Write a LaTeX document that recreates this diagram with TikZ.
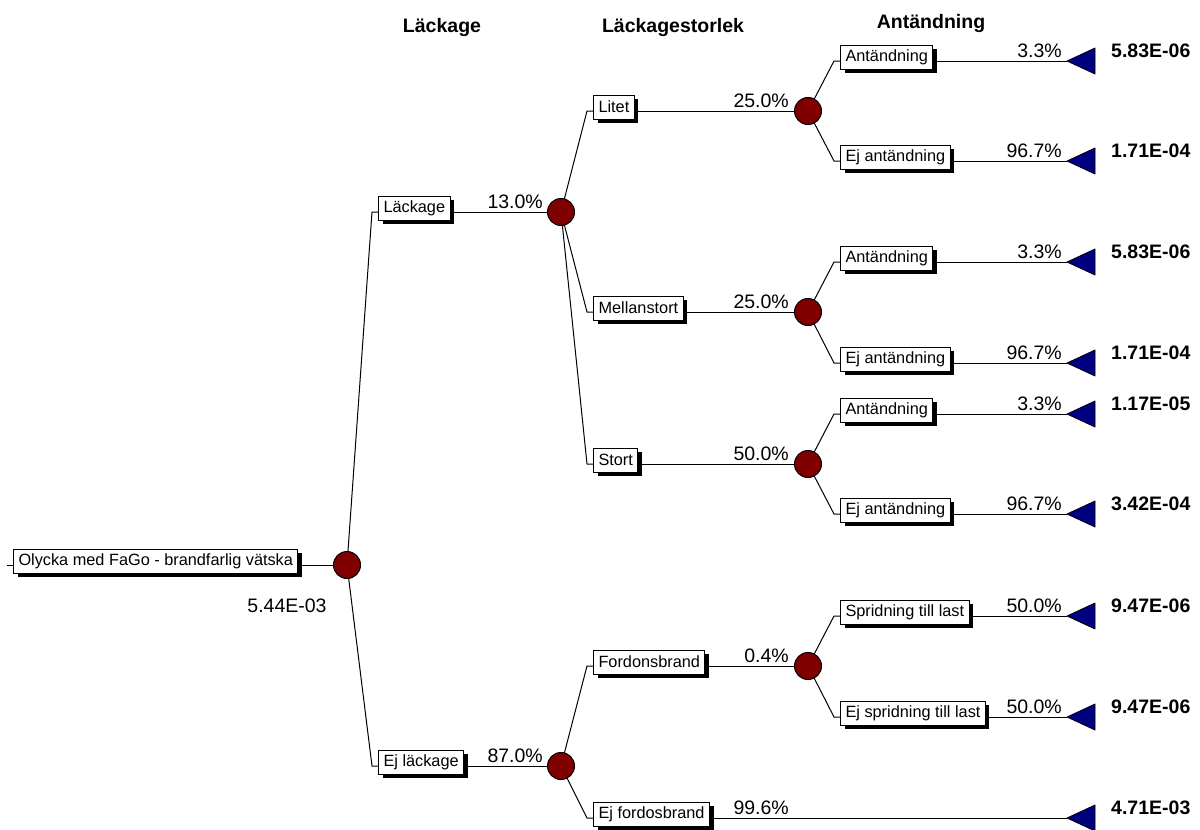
\documentclass[tikz,border=0pt]{standalone}
\usepackage{fontspec}
\setmainfont{Liberation Sans}
\usetikzlibrary{shadows,backgrounds}
\definecolor{chancered}{RGB}{128,0,0}
\definecolor{termblue}{RGB}{0,0,128}

% #1 name, #2 parent node, #3 box left x, #4 branch y, #5 label,
% #6 node the branch runs into, #7 probability x, #8 probability
\newcommand\tbranch[8]{%
  \coordinate (#1-in) at ({#3-6},#4);
  \node[branchbox] (#1) at (#3,{#4-4}) {#5};
  \node[prob] (#1-p) at (#7,{#4-4}) {#8};
  \begin{pgfonlayer}{background}
    \draw[conn] (#2.center) -- (#1-in) -- (#1-in -| #1.west);
    \draw[conn] (#1.east |- #1-in) -- (#6);
  \end{pgfonlayer}}

% terminal triangle with its payoff value
\newcommand\tleaf[3]{%
  \coordinate (#1) at (1067,#2);
  \draw[terminal] (#1) -- ++(28,-13) -- ++(0,26) -- cycle;
  \node[payoff] (#1-v) at (1111,{#2-4}) {#3};}

\begin{document}
\begin{tikzpicture}[x=1pt,y=-1pt,
  conn/.style={line width=1pt},
  branchbox/.style={draw, fill=white, line width=1pt, anchor=west,
    minimum height=24pt, inner xsep=5pt, inner ysep=0pt,
    font=\fontsize{16.3}{18}\selectfont,
    general shadow={fill=black, shadow xshift=4pt, shadow yshift=-4pt}},
  chance/.style={circle, draw, fill=chancered, line width=1pt,
    minimum size=27pt, inner sep=0pt},
  prob/.style={anchor=base east, inner sep=0pt,
    font=\fontsize{19.5}{22}\selectfont},
  payoff/.style={anchor=base west, inner sep=0pt,
    font=\bfseries\fontsize{19.5}{22}\selectfont},
  header/.style={anchor=base, inner sep=0pt,
    font=\bfseries\fontsize{19.5}{22}\selectfont},
  terminal/.style={fill=termblue, draw=black, line width=0.8pt, line join=round}
]
\useasboundingbox (0,0) rectangle (1200,830);

% column headings
\node[header] (h1) at (442,32) {Läckage};
\node[header] (h2) at (673,32) {Läckagestorlek};
\node[header] (h3) at (931,28) {Antändning};

% chance nodes
\node[chance] (c0)  at (347,565) {};
\node[chance] (c1)  at (561,212) {};
\node[chance] (c2)  at (561,766) {};
\node[chance] (c11) at (808,111) {};
\node[chance] (c12) at (808,312) {};
\node[chance] (c13) at (808,464) {};
\node[chance] (c21) at (808,666) {};

% terminals
\tleaf{t1}{61}{5.83E-06}
\tleaf{t2}{161}{1.71E-04}
\tleaf{t3}{262}{5.83E-06}
\tleaf{t4}{363}{1.71E-04}
\tleaf{t5}{414}{1.17E-05}
\tleaf{t6}{514}{3.42E-04}
\tleaf{t7}{616}{9.47E-06}
\tleaf{t8}{717}{9.47E-06}
\tleaf{t9}{818}{4.71E-03}

% root
\coordinate (root-in) at (7,565);
\node[branchbox] (root) at (13,561) {Olycka med FaGo - brandfarlig vätska};
\node[anchor=base, inner sep=0pt, font=\fontsize{19.5}{22}\selectfont]
  (rootval) at (287,612) {5.44E-03};
\begin{pgfonlayer}{background}
  \draw[conn] (root-in) -- (root-in -| root.west);
  \draw[conn] (root.east |- root-in) -- (c0.center);
\end{pgfonlayer}

% first level
\tbranch{lack}{c0}{378}{212}{Läckage}{c1.center}{543}{13.0\%}
\tbranch{ejlack}{c0}{378}{766}{Ej läckage}{c2.center}{543}{87.0\%}

% second level
\tbranch{litet}{c1}{593}{111}{Litet}{c11.center}{789}{25.0\%}
\tbranch{mellan}{c1}{593}{312}{Mellanstort}{c12.center}{789}{25.0\%}
\tbranch{stort}{c1}{593}{464}{Stort}{c13.center}{789}{50.0\%}
\tbranch{fordon}{c2}{593}{666}{Fordonsbrand}{c21.center}{789}{0.4\%}
\tbranch{ejford}{c2}{593}{818}{Ej fordosbrand}{t9}{789}{99.6\%}

% third level
\tbranch{a1}{c11}{840}{61}{Antändning}{t1}{1062}{3.3\%}
\tbranch{a2}{c11}{840}{161}{Ej antändning}{t2}{1062}{96.7\%}
\tbranch{a3}{c12}{840}{262}{Antändning}{t3}{1062}{3.3\%}
\tbranch{a4}{c12}{840}{363}{Ej antändning}{t4}{1062}{96.7\%}
\tbranch{a5}{c13}{840}{414}{Antändning}{t5}{1062}{3.3\%}
\tbranch{a6}{c13}{840}{514}{Ej antändning}{t6}{1062}{96.7\%}
\tbranch{a7}{c21}{840}{616}{Spridning till last}{t7}{1062}{50.0\%}
\tbranch{a8}{c21}{840}{717}{Ej spridning till last}{t8}{1062}{50.0\%}
\end{tikzpicture}
\end{document}
